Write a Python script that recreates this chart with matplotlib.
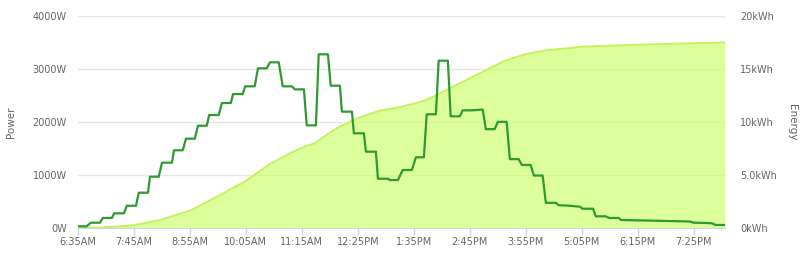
import matplotlib
matplotlib.use("Agg")
import matplotlib.pyplot as plt

# Minutes after 6:35AM
power_t = [0, 11, 16, 27.5, 31, 42.5, 45, 57.5, 61, 72.5, 76, 87.5, 90, 101, 105, 117.5,
           120, 131, 135, 146, 150, 161, 164, 176, 180, 191, 194, 206, 209, 221, 225, 236,
           240, 251, 256, 267.5, 271, 282.5, 286, 297.5, 301, 312.5, 316, 327.5, 330, 342.5,
           345, 357.5, 360, 372.5, 375, 387.5, 390, 400, 406, 417.5, 422.5, 432.5, 436, 447.5,
           451, 462.5, 466, 477.5, 481, 492.5, 506, 510, 521, 525, 536, 540, 551, 555, 566,
           570, 581, 585, 597.5, 601, 615, 627.5, 631, 644, 647.5, 660, 664, 676, 679, 715,
           765, 770, 785, 792.5, 797.5, 809]
power_w = [32, 32, 100, 100, 190, 190, 277, 277, 420, 420, 666, 666, 968, 968, 1232, 1232,
           1466, 1466, 1685, 1685, 1930, 1930, 2132, 2132, 2358, 2358, 2528, 2528, 2673, 2673, 3013, 3013,
           3126, 3126, 2673, 2673, 2616, 2616, 1937, 1937, 3277, 3277, 2685, 2685, 2195, 2195,
           1787, 1787, 1440, 1440, 930, 930, 905, 905, 1094, 1094, 1334, 1334, 2145, 2145,
           3157, 3157, 2107, 2107, 2220, 2220, 2235, 1865, 1865, 2003, 2003, 1299, 1299, 1189, 1189,
           990, 990, 475, 475, 430, 420, 402, 364, 364, 220, 220, 189, 189, 151, 140,
           122, 100, 95, 89, 57, 57]

energy_t = [0, 27.5, 52.5, 70, 102.5, 140, 177.5, 210, 240, 265, 280, 296, 315, 327.5,
            352.5, 377.5, 402.5, 432.5, 452.5, 477.5, 502.5, 534, 560, 584, 630, 702.5, 809]
energy_kwh = [0, 0.04, 0.15, 0.27, 0.75, 1.63, 3.1, 4.45, 6.04, 7.05, 7.58, 8.0, 9.0, 9.56,
              10.45, 11.07, 11.4, 11.98, 12.7, 13.65, 14.6, 15.8, 16.4, 16.75, 17.1, 17.3, 17.5]

x_ticks = [0, 70, 140, 210, 280, 350, 420, 490, 560, 630, 700, 770]
x_labels = ["6:35AM", "7:45AM", "8:55AM", "10:05AM", "11:15AM", "12:25PM", "1:35PM",
            "2:45PM", "3:55PM", "5:05PM", "6:15PM", "7:25PM"]
power_ticks = [0, 1000, 2000, 3000, 4000]
power_labels = ["0W", "1000W", "2000W", "3000W", "4000W"]
energy_ticks = [0, 5, 10, 15, 20]
energy_labels = ["0kWh", "5.0kWh", "10kWh", "15kWh", "20kWh"]

label_color = "#666666"
fig = plt.figure(figsize=(8, 2.56), dpi=100)
ax2 = fig.add_axes([78/800, 28/256, (725-78)/800, 212/256])
ax = ax2.twinx()
ax.yaxis.tick_left()
ax.yaxis.set_label_position("left")
ax2.yaxis.tick_right()
ax2.yaxis.set_label_position("right")

# energy area (behind)
ax2.set_axisbelow(True)
ax2.grid(axis="y", color="#e6e6e6", lw=1)
ax2.fill_between(energy_t, energy_kwh, 0, color="#ccff66", alpha=0.65, lw=0, zorder=2)
ax2.plot(energy_t, energy_kwh, color="#c4f25a", lw=1.4, zorder=3)
ax2.set_ylim(0, 20)
ax2.set_yticks(energy_ticks)
ax2.set_yticklabels(energy_labels)
ax2.set_ylabel("Energy", color=label_color, fontsize=7.5, rotation=270, labelpad=14)

# power line (front)
ax.plot(power_t, power_w, color="#2f9a2f", lw=1.6, zorder=5)
ax.set_ylim(0, 4000)
ax.set_yticks(power_ticks)
ax.set_yticklabels(power_labels)
ax.set_ylabel("Power", color=label_color, fontsize=7.5, labelpad=12)

ax2.set_xlim(0, 809)
ax2.set_xticks(x_ticks)
ax2.set_xticklabels(x_labels)

for a in (ax, ax2):
    for s in ("top", "left", "right", "bottom"):
        a.spines[s].set_visible(False)
ax2.spines["bottom"].set_visible(True)
ax2.spines["bottom"].set_color("#ccd6eb")
ax2.spines["bottom"].set_zorder(6)

ax.tick_params(axis="y", length=0, labelsize=7, labelcolor=label_color, pad=8)
ax2.tick_params(axis="y", length=0, labelsize=7, labelcolor=label_color, pad=11)
ax2.tick_params(axis="x", length=5, width=1, color="#ccd6eb", labelsize=7,
                labelcolor=label_color, pad=1.5)

fig.savefig("out.png", dpi=100, facecolor="white")
